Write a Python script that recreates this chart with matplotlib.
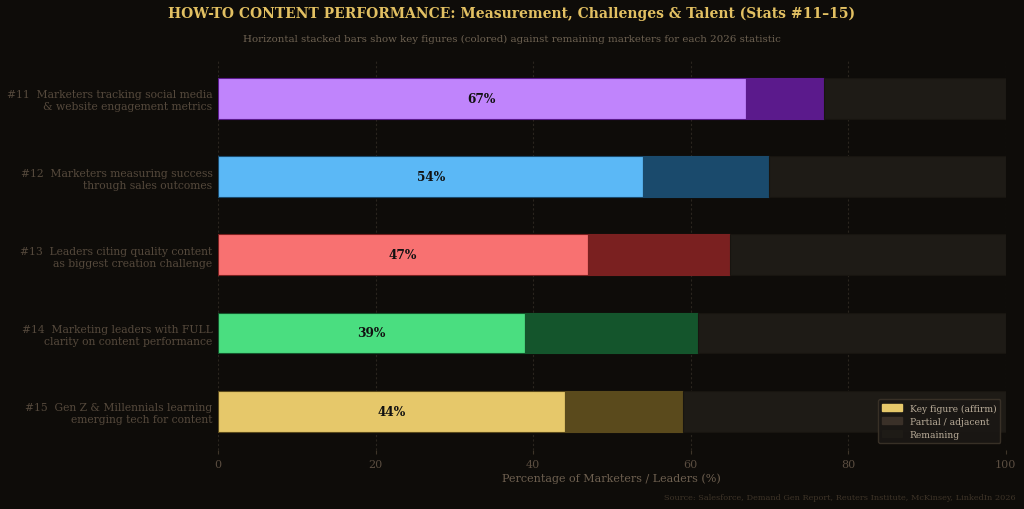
import matplotlib
matplotlib.use('Agg')
import matplotlib.pyplot as plt
from matplotlib.patches import Patch

# data
labels = [
	"#11  Marketers tracking social media\n& website engagement metrics",
	"#12  Marketers measuring success\nthrough sales outcomes",
	"#13  Leaders citing quality content\nas biggest creation challenge",
	"#14  Marketing leaders with FULL\nclarity on content performance",
	"#15  Gen Z & Millennials learning\nemerging tech for content",
]
key_vals = [67, 54, 47, 39, 44]
partial_vals = [10, 16, 18, 22, 15]
key_colors = ['#c084fc', '#5bb8f6', '#f87171', '#4ade80', '#e6c86a']
partial_colors = ['#5b1a8c', '#1a4a6c', '#7a2020', '#14552c', '#5a4a1c']
remain_color = '#1e1b16'

BG = '#0e0c09'
plt.rcParams['font.family'] = ['DejaVu Serif']

fig = plt.figure(figsize=(10.24, 5.1), dpi=100, facecolor=BG)
ax = fig.add_axes([0.213, 0.115, 0.769, 0.767])
ax.set_facecolor(BG)

y = list(range(len(labels)))
remain_vals = [100 - k - p for k, p in zip(key_vals, partial_vals)]
lefts2 = key_vals
lefts3 = [k + p for k, p in zip(key_vals, partial_vals)]
h = 0.52
ax.barh(y, key_vals, height=h, color=key_colors, edgecolor=partial_colors, linewidth=0.8, zorder=3)
ax.barh(y, partial_vals, left=lefts2, height=h, color=partial_colors, edgecolor=partial_colors, linewidth=0.8, zorder=3)
ax.barh(y, remain_vals, left=lefts3, height=h, color=remain_color, edgecolor='#181510', linewidth=0.8, zorder=3)

for yi, k in zip(y, key_vals):
	ax.text(k / 2, yi, f"{k}%", ha='center', va='center', fontsize=8.7, fontweight='bold', color='#111111', zorder=4)

ax.set_xlim(0, 100)
ax.set_ylim(len(labels) - 0.5, -0.5)
ax.set_yticks(y)
ax.set_yticklabels(labels, fontsize=7.75, color='#55493c', linespacing=1.25)
ax.set_xticks([0, 20, 40, 60, 80, 100])
ax.tick_params(axis='x', colors='#3e3529', labelcolor='#5a4d40', labelsize=8, length=3, pad=3)
ax.tick_params(axis='y', length=0, pad=4)
for s in ax.spines.values():
	s.set_visible(False)
ax.grid(axis='x', color='#2a251e', linestyle=(0, (2, 2)), linewidth=0.8, zorder=0)
ax.set_xlabel("Percentage of Marketers / Leaders (%)", fontsize=8, color='#6e6050', labelpad=3)

handles = [
	Patch(facecolor='#e6c86a', edgecolor='#e6c86a', label='Key figure (affirm)'),
	Patch(facecolor='#3a3028', edgecolor='#3a3028', label='Partial / adjacent'),
	Patch(facecolor='#1e1b16', edgecolor='#1e1b16', label='Remaining'),
]
leg = ax.legend(handles=handles, loc='lower right', fontsize=6.6, frameon=True,
	facecolor='#1a1714', edgecolor='#3a3228', labelcolor='#b8ab98', borderpad=0.45,
	handlelength=2.2, handleheight=0.8, labelspacing=0.45, handletextpad=0.8,
	borderaxespad=0.3, bbox_to_anchor=(0.997, 0.012))
leg.get_frame().set_alpha(0.95)
leg.set_zorder(5)

fig.text(0.5, 0.988, "HOW-TO CONTENT PERFORMANCE: Measurement, Challenges & Talent (Stats #11\u201315)",
	ha='center', va='top', fontsize=10, fontweight='bold', color='#e2c062')
fig.text(0.5, 0.931, "Horizontal stacked bars show key figures (colored) against remaining marketers for each 2026 statistic",
	ha='center', va='top', fontsize=7.4, color='#6e6252')
fig.text(0.992, 0.015, "Source: Salesforce, Demand Gen Report, Reuters Institute, McKinsey, LinkedIn 2026",
	ha='right', va='bottom', fontsize=5.9, color='#3e3428')

fig.savefig('out.png', dpi=100, facecolor=BG)
